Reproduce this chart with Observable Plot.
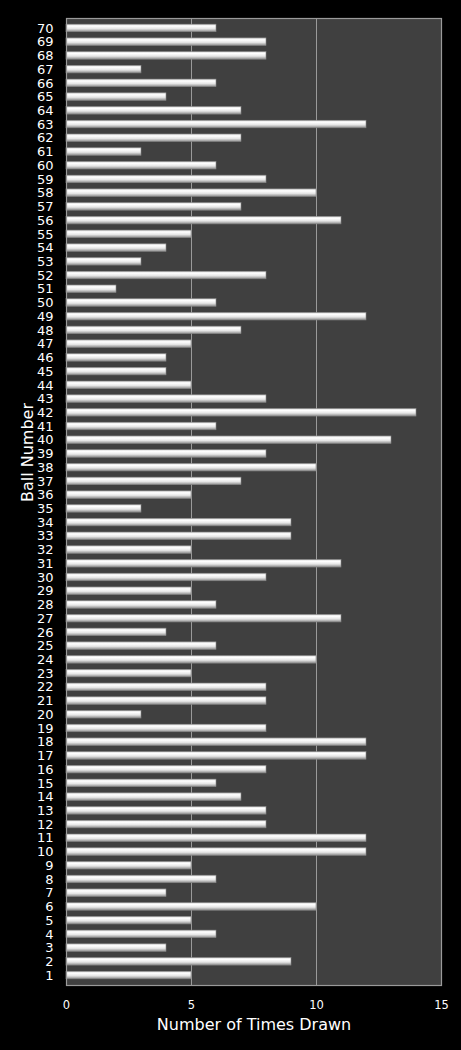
<!DOCTYPE html>
<html>
<head>
<meta charset="utf-8">
<script src="https://cdn.jsdelivr.net/npm/d3@7"></script>
<script src="https://cdn.jsdelivr.net/npm/@observablehq/plot@0.6"></script>
<style>
  body { margin: 0; background: #000; }
  #chart svg { display: block; }
</style>
</head>
<body>
<div id="chart"></div>
<script>
// ball numbers 1..70 and how often each was drawn
const balls = [
  1, 2, 3, 4, 5, 6, 7, 8, 9, 10,
  11, 12, 13, 14, 15, 16, 17, 18, 19, 20,
  21, 22, 23, 24, 25, 26, 27, 28, 29, 30,
  31, 32, 33, 34, 35, 36, 37, 38, 39, 40,
  41, 42, 43, 44, 45, 46, 47, 48, 49, 50,
  51, 52, 53, 54, 55, 56, 57, 58, 59, 60,
  61, 62, 63, 64, 65, 66, 67, 68, 69, 70
]
const timesDrawn = [
  5, 9, 4, 6, 5, 10, 4, 6, 5, 12,
  12, 8, 8, 7, 6, 8, 12, 12, 8, 3,
  8, 8, 5, 10, 6, 4, 11, 6, 5, 8,
  11, 5, 9, 9, 3, 5, 7, 10, 8, 13,
  6, 14, 8, 5, 4, 4, 5, 7, 12, 6,
  2, 8, 3, 4, 5, 11, 7, 10, 8, 6,
  3, 7, 12, 7, 4, 6, 3, 8, 8, 6
]
const xTicks = [0, 5, 10, 15]

const data = balls.map((b, i) => ({ball: b, times: timesDrawn[i]}))

let chart = Plot.plot({
  width: 461,
  height: 1050,
  marginLeft: 66,
  marginRight: 20,
  marginTop: 18,
  marginBottom: 65,
  style: {background: '#000', color: '#fff', fontFamily: 'DejaVu Sans, Verdana, sans-serif'},
  x: {domain: [0, 15]},
  y: {domain: balls.slice().reverse(), padding: 0.45},
  marks: [
    Plot.frame({fill: '#404040'}),
    Plot.ruleX(xTicks.slice(1, 3), {stroke: '#9a9a9a', strokeWidth: 1}),
    Plot.barX(data, {y: 'ball', x: 'times', fill: 'url(#barGrad)', stroke: '#888', strokeWidth: 0.6}),
    Plot.frame({stroke: '#9a9a9a', strokeWidth: 1.2}),
    Plot.axisX({ticks: xTicks, tickSize: 0, tickPadding: 15, fontSize: 11.5, fill: '#fff', label: null}),
    Plot.axisY({tickSize: 0, tickPadding: 13, fontSize: 13, fill: '#fff', label: null}),
    Plot.text(['Number of Times Drawn'], {frameAnchor: 'bottom', dy: 44, fontSize: 16, fill: '#fff'}),
    Plot.text(['Ball Number'], {frameAnchor: 'left', dx: -39, rotate: -90, fontSize: 16, fill: '#fff'}),
  ],
})

// gradient for the shiny bars
d3.select(chart).insert('defs', ':first-child').html(`
  <linearGradient id="barGrad" x1="0" y1="0" x2="0" y2="1">
    <stop offset="0" stop-color="#dcdcdc"/>
    <stop offset="0.25" stop-color="#ffffff"/>
    <stop offset="0.6" stop-color="#e6e6e6"/>
    <stop offset="1" stop-color="#8c8c8c"/>
  </linearGradient>`)

d3.select('#chart').append(() => chart)
</script>
</body>
</html>
